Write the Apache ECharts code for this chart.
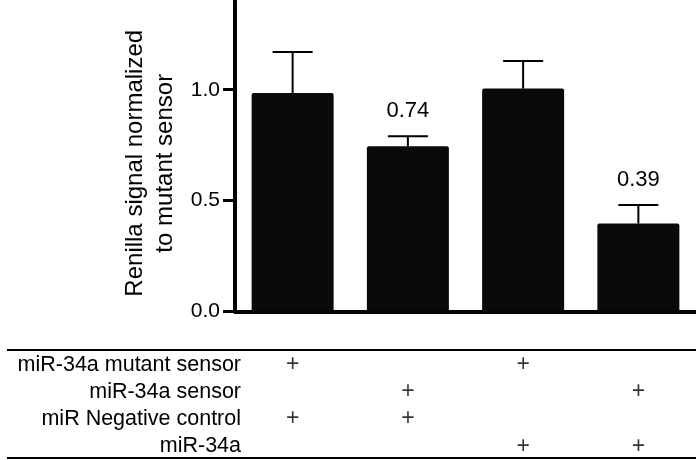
<!DOCTYPE html>
<html>
<head>
<meta charset="utf-8">
<script src="https://cdn.jsdelivr.net/npm/echarts@6/dist/echarts.min.js"></script>
<style>
  html, body {margin: 0; padding: 0; background: #fff;}
  #main {width: 696px; height: 460px;}
</style>
</head>
<body>
<div id="main"></div>
<script>
// groups = which plasmid / miRNA combination went into each well
const groups = ['mutant + neg', 'sensor + neg', 'mutant + miR-34a', 'sensor + miR-34a'];
const means = [0.985, 0.745, 1.005, 0.397];
const errTops = [1.17, 0.79, 1.13, 0.48];
const valueLabels = ['', '0.74', '', '0.39'];
const yTicks = [0, 0.5, 1.0];
const rowNames = ['miR-34a mutant sensor', 'miR-34a sensor', 'miR Negative control', 'miR-34a'];
const plusRows = [
  [1, 0, 1, 0],
  [0, 1, 0, 1],
  [1, 1, 0, 0],
  [0, 0, 1, 1]
];

const font = '"Liberation Sans", Arial, sans-serif';

const plusData = [];
plusRows.forEach((row, r) => {
  row.forEach((on, c) => {
    if (on) plusData.push([c, r]);
  });
});

const chart = echarts.init(document.getElementById('main'));

chart.setOption({
  animation: false,
  backgroundColor: '#fff',
  textStyle: {fontFamily: font, color: '#000'},
  grid: [
    {left: 235, right: -3, top: 1, bottom: 148.5},
    {left: 235, right: -3, top: 351, height: 110}
  ],
  xAxis: [
    {
      type: 'category',
      gridIndex: 0,
      data: groups,
      axisLine: {lineStyle: {color: '#000', width: 4}},
      axisTick: {alignWithLabel: true, length: 11, lineStyle: {color: '#000', width: 4}},
      axisLabel: {show: false}
    },
    {
      type: 'category',
      gridIndex: 1,
      data: groups,
      show: false
    }
  ],
  yAxis: [
    {
      type: 'value',
      gridIndex: 0,
      min: 0,
      max: 1.4,
      interval: 0.5,
      name: 'Renilla signal normalized\nto mutant sensor',
      nameLocation: 'middle',
      nameRotate: 90,
      nameGap: 52,
      nameTextStyle: {fontSize: 24, lineHeight: 30, color: '#000', fontFamily: font, padding: [0, 14, 0, 0]},
      axisLine: {show: true, lineStyle: {color: '#000', width: 4}},
      axisTick: {show: true, length: 12, customValues: yTicks, lineStyle: {color: '#000', width: 3}},
      axisLabel: {
        customValues: yTicks,
        fontSize: 21,
        color: '#000',
        margin: 15,
        formatter: v => v.toFixed(1)
      },
      splitLine: {show: false}
    },
    {
      type: 'category',
      gridIndex: 1,
      data: rowNames,
      inverse: true,
      axisLine: {show: false},
      axisTick: {show: false},
      axisLabel: {interval: 0, fontSize: 21.5, color: '#000', margin: -6, align: 'right'}
    }
  ],
  graphic: [
    {type: 'line', shape: {x1: 7, y1: 350, x2: 696, y2: 350}, style: {stroke: '#000', lineWidth: 2}},
    {type: 'line', shape: {x1: 7, y1: 458, x2: 696, y2: 458}, style: {stroke: '#000', lineWidth: 2}}
  ],
  series: [
    {
      type: 'bar',
      xAxisIndex: 0,
      yAxisIndex: 0,
      data: means,
      barWidth: 82,
      itemStyle: {color: '#0a0a0a', borderRadius: 2}
    },
    {
      type: 'custom',
      xAxisIndex: 0,
      yAxisIndex: 0,
      data: means.map((m, i) => [i, m, errTops[i]]),
      z: 3,
      renderItem(params, api) {
        const i = api.value(0);
        const base = api.coord([i, api.value(1)]);
        const top = api.coord([i, api.value(2)]);
        const cap = 20;
        const style = {stroke: '#000', lineWidth: 2};
        const children = [
          {type: 'line', shape: {x1: base[0], y1: base[1], x2: top[0], y2: top[1]}, style},
          {type: 'line', shape: {x1: top[0] - cap, y1: top[1], x2: top[0] + cap, y2: top[1]}, style}
        ];
        const txt = valueLabels[params.dataIndex];
        if (txt) {
          children.push({
            type: 'text',
            x: top[0],
            y: top[1] - 25,
            style: {text: txt, fill: '#000', font: '22px ' + font, align: 'center', verticalAlign: 'middle'}
          });
        }
        return {type: 'group', children};
      }
    },
    {
      type: 'scatter',
      xAxisIndex: 1,
      yAxisIndex: 1,
      data: plusData,
      symbolSize: 0,
      label: {show: true, position: 'inside', formatter: '+', fontSize: 23, color: '#000'}
    }
  ]
});
</script>
</body>
</html>
